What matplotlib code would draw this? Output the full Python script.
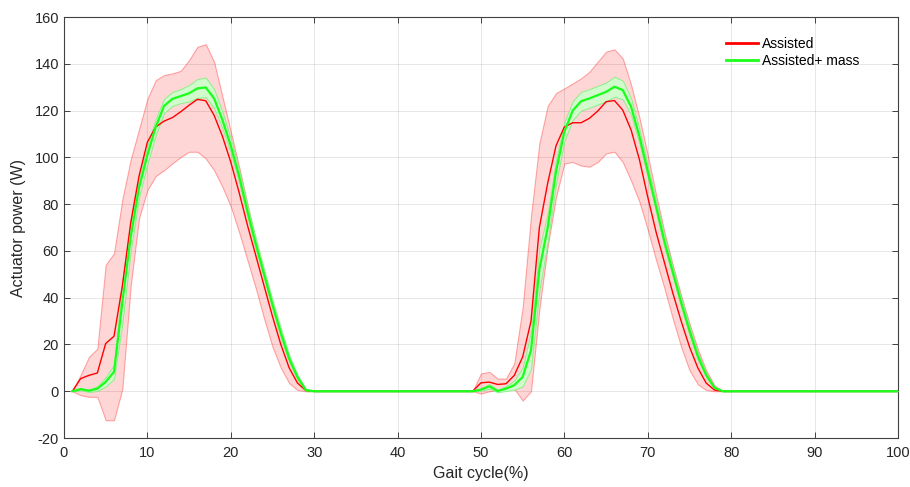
import matplotlib
matplotlib.use('Agg')
import matplotlib.pyplot as plt
import numpy as np

# Gait cycle (%)
gait = list(range(1, 101))

# Assisted: media y bandas (superior / inferior)
assisted_mean = [
    0, 5.4, 6.8, 7.8, 20.4, 23.5, 45, 72, 92, 106.5,
    113, 115.5, 117, 119.5, 122.3, 124.8, 124.2, 118, 109, 98,
    85, 71, 58, 45, 32, 20, 10, 3.5, 0.3, 0,
    0, 0, 0, 0, 0, 0, 0, 0, 0, 0,
    0, 0, 0, 0, 0, 0, 0, 0, 0, 3.6,
    3.9, 2.9, 3.2, 6.8, 14.7, 30, 70, 89, 105, 113,
    114.8, 114.8, 116.7, 119.8, 123.8, 124.3, 120.2, 111.7, 99, 83,
    68, 55, 42, 30, 19, 10, 3.5, 0.5, 0, 0,
    0, 0, 0, 0, 0, 0, 0, 0, 0, 0,
    0, 0, 0, 0, 0, 0, 0, 0, 0, 0,
]
assisted_upper = [
    0, 7, 14.7, 18.2, 54, 59, 82, 99, 112, 125,
    133, 135.2, 135.9, 137, 141.6, 147.3, 148.4, 140.9, 126, 111,
    96, 80, 64, 50, 37, 25, 14, 6, 1, 0,
    0, 0, 0, 0, 0, 0, 0, 0, 0, 0,
    0, 0, 0, 0, 0, 0, 0, 0, 0, 7.6,
    8.3, 5.4, 5.4, 12, 36, 75, 106, 122, 127.5, 129.5,
    131.6, 133.8, 136.6, 140.9, 145.2, 146.2, 142.3, 131, 117, 101,
    84, 68, 54, 41, 29, 18, 9, 2.5, 0, 0,
    0, 0, 0, 0, 0, 0, 0, 0, 0, 0,
    0, 0, 0, 0, 0, 0, 0, 0, 0, 0,
]
assisted_lower = [
    0, -1.7, -2.4, -2.4, -12.4, -12.4, 1, 45, 74, 86,
    92, 94.5, 97.4, 100.2, 102.4, 102.4, 99.5, 94.5, 87.4, 79,
    68, 56, 44, 31, 19, 10, 3.5, 0.5, 0, 0,
    0, 0, 0, 0, 0, 0, 0, 0, 0, 0,
    0, 0, 0, 0, 0, 0, 0, 0, 0, -1,
    0, 0.5, 1, 1, -4, 0, 35, 62, 83, 97.4,
    98, 96.5, 96, 98, 101.7, 102.4, 98, 90, 81, 69,
    56, 44, 31, 19, 9, 3, 0.5, 0, 0, 0,
    0, 0, 0, 0, 0, 0, 0, 0, 0, 0,
    0, 0, 0, 0, 0, 0, 0, 0, 0, 0,
]

# Assisted + mass: media y desviacion
mass_mean = [
    0, 0.9, 0.2, 1.1, 4, 8.3, 38, 66, 87, 101,
    113, 122, 125, 126.2, 127.4, 129.5, 129.9, 125.2, 116, 105,
    92, 77, 63, 50, 37, 25, 14, 6, 0.5, 0,
    0, 0, 0, 0, 0, 0, 0, 0, 0, 0,
    0, 0, 0, 0, 0, 0, 0, 0, 0, 0.7,
    2.1, 0.1, 1.1, 2.6, 6.1, 17.5, 52, 70, 94, 111,
    120, 124, 125.2, 126.6, 128, 130.2, 128.8, 121.6, 109, 94,
    79, 64, 51, 38, 26, 15, 7, 1.5, 0, 0,
    0, 0, 0, 0, 0, 0, 0, 0, 0, 0,
    0, 0, 0, 0, 0, 0, 0, 0, 0, 0,
]
mass_sd = [
    0, 0.5, 0.5, 1, 2, 3, 9, 6, 4, 4,
    3.5, 3, 3, 3, 3.5, 4, 4.2, 4, 3.5, 3,
    2.5, 2.5, 2.5, 2, 2, 2, 1.5, 1, 0.5, 0,
    0, 0, 0, 0, 0, 0, 0, 0, 0, 0,
    0, 0, 0, 0, 0, 0, 0, 0, 0, 0.5,
    1, 0.5, 1, 2, 4, 8, 9, 6, 5, 4,
    4, 4, 4, 4, 4, 4.3, 4, 3.5, 3, 2.5,
    2.5, 2.5, 2, 2, 2, 1.5, 1, 0.5, 0, 0,
    0, 0, 0, 0, 0, 0, 0, 0, 0, 0,
    0, 0, 0, 0, 0, 0, 0, 0, 0, 0,
]

x = np.array(gait)
m_mean = np.array(mass_mean)
m_sd = np.array(mass_sd)

plt.rcParams['font.family'] = ['Liberation Sans', 'DejaVu Sans']
plt.rcParams['axes.unicode_minus'] = False

fig = plt.figure(figsize=(9.1, 4.87), dpi=100)
ax = fig.add_axes([0.0703, 0.1006, 0.9165, 0.8644])

# bandas
ax.fill_between(x, assisted_lower, assisted_upper, facecolor=(1, 0, 0, 0.16),
                edgecolor=(1, 0, 0, 0.32), linewidth=0.8, zorder=2)
ax.fill_between(x, m_mean - m_sd, m_mean + m_sd, facecolor=(0.8, 1, 0.8, 0.9),
                edgecolor=(0.45, 0.95, 0.45, 0.8), linewidth=0.7, zorder=3)

# lineas medias
ax.plot(x, assisted_mean, color='#ff0000', linewidth=1.0, zorder=4)
ax.plot(x, mass_mean, color='#1aff1a', linewidth=1.6, zorder=5)

# entradas de leyenda con trazo mas grueso
ax.plot([], [], color='#ff0000', linewidth=2, label='Assisted')
ax.plot([], [], color='#1aff1a', linewidth=2, label='Assisted+ mass')

ax.set_xlim(0, 100)
ax.set_ylim(-20, 160)
ax.set_xticks(range(0, 101, 10))
ax.set_yticks(range(-20, 161, 20))
ax.grid(True, color=(0.15, 0.15, 0.15), alpha=0.13, linewidth=0.6)
ax.set_axisbelow(True)

for s in ax.spines.values():
    s.set_color((0.25, 0.25, 0.25))
    s.set_linewidth(0.8)
ax.tick_params(direction='in', length=4, width=0.7, colors=(0.25, 0.25, 0.25),
               labelcolor=(0.15, 0.15, 0.15), labelsize=10.5, top=True, right=True,
               labeltop=False, labelright=False)
ax.tick_params(axis='x', pad=6)

ax.set_xlabel('Gait cycle(%)', fontsize=11.5, color=(0.15, 0.15, 0.15), labelpad=4)
ax.set_ylabel('Actuator power (W)', fontsize=11.5, color=(0.15, 0.15, 0.15), labelpad=6)

leg = ax.legend(loc='upper right', frameon=False, fontsize=10, handlelength=2.3,
                borderaxespad=0.6, labelspacing=0.2, handletextpad=0.3,
                bbox_to_anchor=(0.97, 0.985))

plt.savefig('out.png', dpi=100)
